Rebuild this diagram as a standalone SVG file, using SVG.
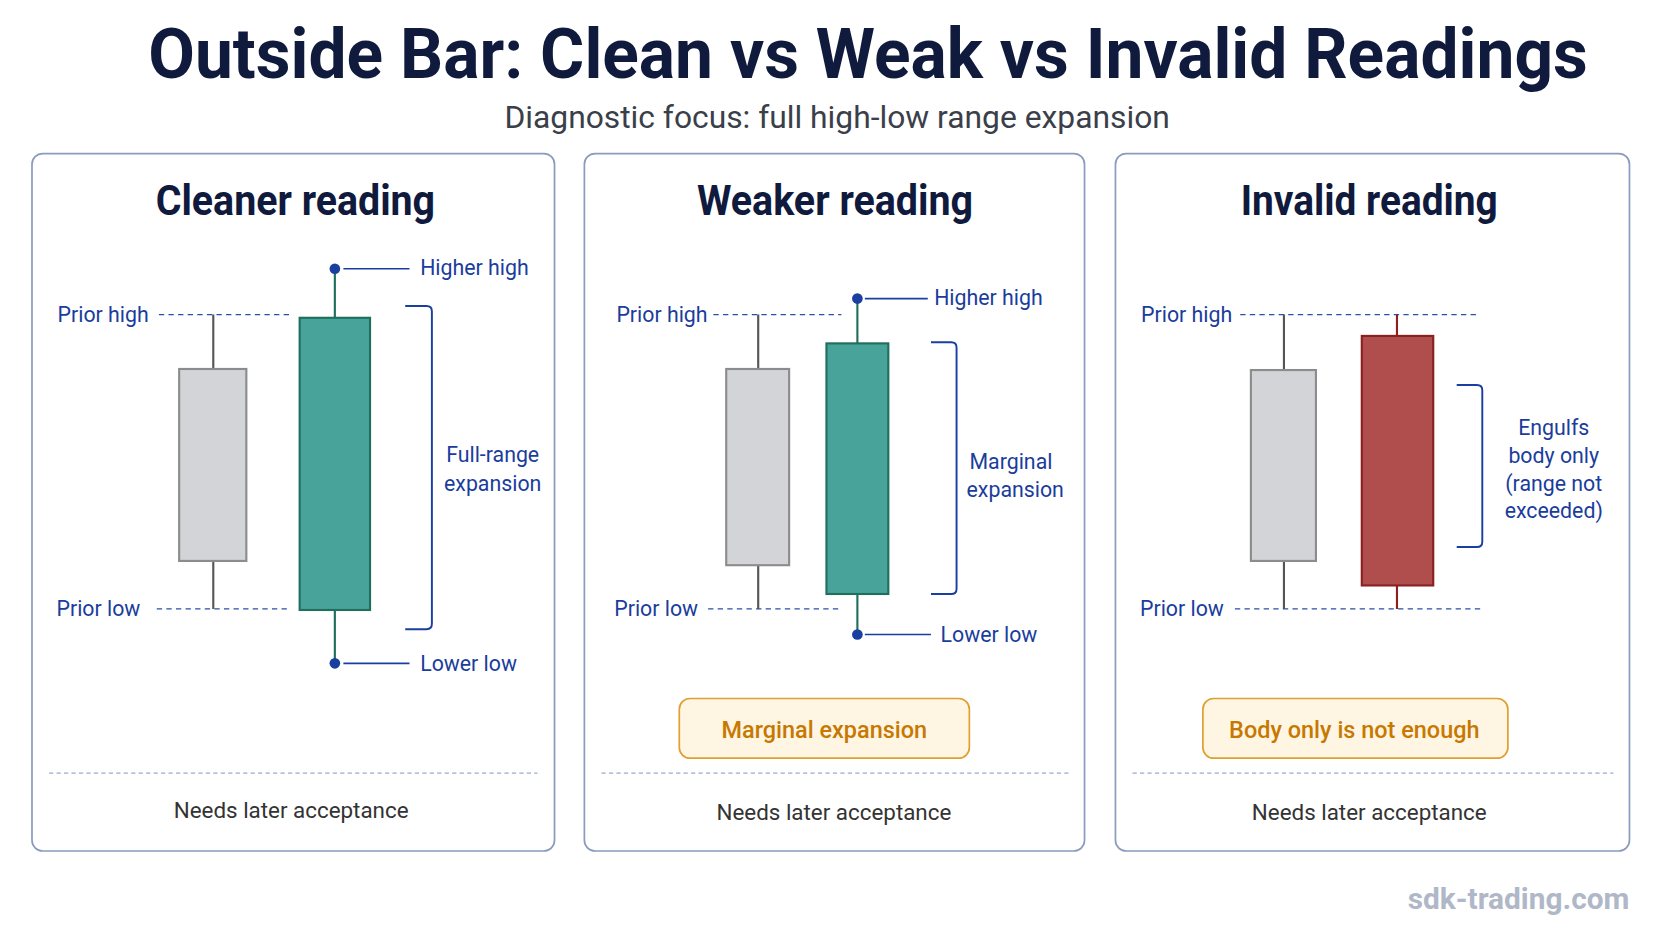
<svg xmlns="http://www.w3.org/2000/svg" width="1672" height="941" viewBox="0 0 1672 941">
<style>
text{font-family:Roboto,"Liberation Sans",sans-serif}
.panel{fill:#fff;stroke:#8a9bbd;stroke-width:1.6}
.pt{font-size:39px;font-weight:700;fill:#0f1a3d;text-anchor:middle}
.lab{font-size:20px;fill:#1a3d9c}
.dash{stroke:#2a4fa8;stroke-width:1.3;stroke-dasharray:5 4;fill:none}
.sep{stroke:#9aaccc;stroke-width:1.3;stroke-dasharray:4 3}
.gw{stroke:#555;stroke-width:2}
.gb{fill:#d3d4d7;stroke:#8c8c8c;stroke-width:2}
.grb{fill:#48a39b;stroke:#1f6e5e;stroke-width:2}
.gw2{stroke:#1f6e5e;stroke-width:2}
.rb{fill:#b04e4d;stroke:#8a2020;stroke-width:2}
.rw{stroke:#8a2020;stroke-width:2}
.br{fill:none;stroke:#1a3fa0;stroke-width:1.8}
.lead{stroke:#1a3fa0;stroke-width:1.6}
.dot{fill:#1a3fa0}
.foot{font-size:21px;fill:#333;text-anchor:middle}
.ob{fill:#fff5e3;stroke:#e0a030;stroke-width:1.6}
.ot{font-size:22px;fill:#c77800;text-anchor:middle;font-weight:500}
.mid{text-anchor:middle}
</style>
<rect width="1672" height="941" fill="#fff"/>
<g transform="scale(1.0664)">
<g id="header">
<text x="814" y="73" font-size="66" font-weight="700" fill="#0f1a3d" text-anchor="middle" textLength="1350" lengthAdjust="spacingAndGlyphs">Outside Bar: Clean vs Weak vs Invalid Readings</text>
<text x="785" y="120" font-size="30" fill="#3a3f4a" text-anchor="middle" textLength="624" lengthAdjust="spacingAndGlyphs">Diagnostic focus: full high-low range expansion</text>
</g>
<g id="panel-clean">
<rect class="panel" x="30" y="144" width="490" height="654" rx="10"/>
<text class="pt" x="277" y="202" textLength="262" lengthAdjust="spacingAndGlyphs">Cleaner reading</text>
<line class="dash" x1="149" y1="295" x2="272" y2="295"/>
<line class="dash" x1="147" y1="571" x2="272" y2="571"/>
<text class="lab" x="54" y="302">Prior high</text>
<text class="lab" x="53" y="578">Prior low</text>
<line class="gw" x1="200" y1="295" x2="200" y2="571"/>
<rect class="gb" x="168" y="346" width="63" height="180"/>
<line class="gw2" x1="314" y1="252" x2="314" y2="622"/>
<rect class="grb" x="281" y="298" width="66" height="274"/>
<circle class="dot" cx="314" cy="252" r="5"/><circle class="dot" cx="314" cy="622" r="5"/>
<line class="lead" x1="322" y1="252" x2="384" y2="252"/><line class="lead" x1="322" y1="622" x2="384" y2="622"/>
<text class="lab" x="394" y="258">Higher high</text>
<text class="lab" x="394" y="629">Lower low</text>
<path class="br" d="M380,287 H400 Q405,287 405,292 V585 Q405,590 400,590 H380"/>
<text class="lab mid" x="462" y="433">Full-range</text>
<text class="lab mid" x="462" y="460">expansion</text>
<line class="sep" x1="46" y1="725" x2="504" y2="725"/>
<text class="foot" x="273" y="767">Needs later acceptance</text>
</g>
<g id="panel-weak">
<rect class="panel" x="548" y="144" width="469" height="654" rx="10"/>
<text class="pt" x="783" y="202" textLength="259" lengthAdjust="spacingAndGlyphs">Weaker reading</text>
<line class="dash" x1="669" y1="295" x2="789" y2="295"/>
<line class="dash" x1="664" y1="571" x2="789" y2="571"/>
<text class="lab" x="578" y="302">Prior high</text>
<text class="lab" x="576" y="578">Prior low</text>
<line class="gw" x1="711" y1="295" x2="711" y2="571"/>
<rect class="gb" x="681" y="346" width="59" height="184"/>
<line class="gw2" x1="804" y1="280" x2="804" y2="595"/>
<rect class="grb" x="775" y="322" width="58" height="235"/>
<circle class="dot" cx="804" cy="280" r="5"/><circle class="dot" cx="804" cy="595" r="5"/>
<line class="lead" x1="811" y1="280" x2="870" y2="280"/><line class="lead" x1="811" y1="595" x2="873" y2="595"/>
<text class="lab" x="876" y="286">Higher high</text>
<text class="lab" x="882" y="602">Lower low</text>
<path class="br" d="M873,321 H892 Q897,321 897,326 V552 Q897,557 892,557 H873"/>
<text class="lab mid" x="948" y="440">Marginal</text>
<text class="lab mid" x="952" y="466">expansion</text>
<rect class="ob" x="637" y="655" width="272" height="56" rx="10"/>
<text class="ot" x="773" y="692">Marginal expansion</text>
<line class="sep" x1="564" y1="725" x2="1002" y2="725"/>
<text class="foot" x="782" y="769">Needs later acceptance</text>
</g>
<g id="panel-invalid">
<rect class="panel" x="1046" y="144" width="482" height="654" rx="10"/>
<text class="pt" x="1284" y="202" textLength="241" lengthAdjust="spacingAndGlyphs">Invalid reading</text>
<line class="dash" x1="1163" y1="295" x2="1388" y2="295"/>
<line class="dash" x1="1158" y1="571" x2="1388" y2="571"/>
<text class="lab" x="1070" y="302">Prior high</text>
<text class="lab" x="1069" y="578">Prior low</text>
<line class="gw" x1="1204" y1="295" x2="1204" y2="571"/>
<rect class="gb" x="1173" y="347" width="61" height="179"/>
<line class="rw" x1="1310" y1="295" x2="1310" y2="571"/>
<rect class="rb" x="1277" y="315" width="67" height="234"/>
<path class="br" d="M1366,361 H1385 Q1390,361 1390,366 V508 Q1390,513 1385,513 H1366"/>
<text class="lab mid" x="1457" y="408">Engulfs</text>
<text class="lab mid" x="1457" y="434">body only</text>
<text class="lab mid" x="1457" y="460">(range not</text>
<text class="lab mid" x="1457" y="486">exceeded)</text>
<rect class="ob" x="1128" y="655" width="286" height="56" rx="10"/>
<text class="ot" x="1270" y="692">Body only is not enough</text>
<line class="sep" x1="1062" y1="725" x2="1513" y2="725"/>
<text class="foot" x="1284" y="769">Needs later acceptance</text>
</g>
<text x="1528" y="852" font-size="28" font-weight="700" fill="#b0b8c8" text-anchor="end">sdk-trading.com</text>
</g>
</svg>
